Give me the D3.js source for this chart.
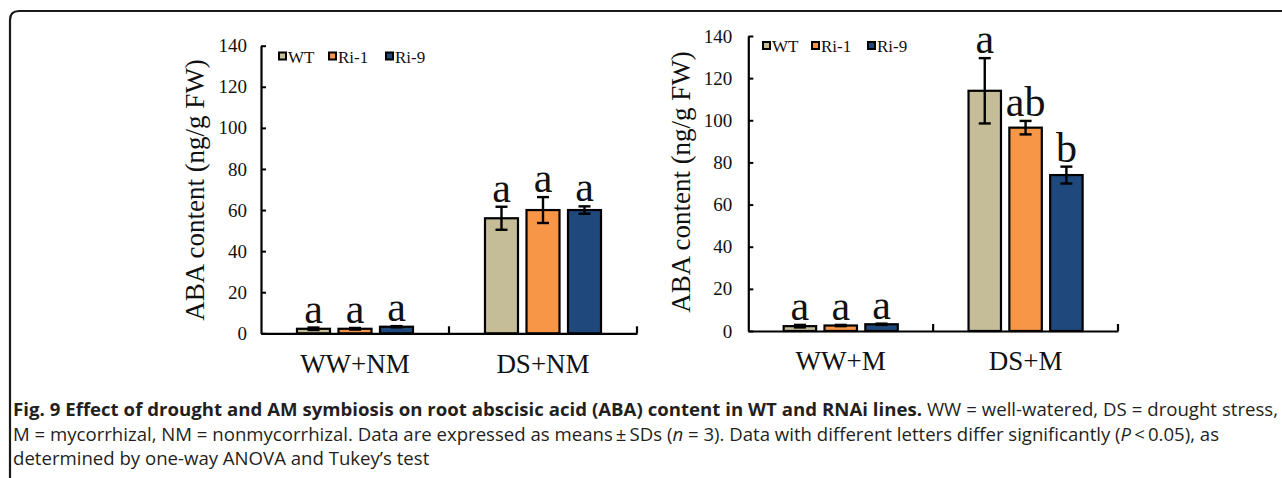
<!DOCTYPE html>
<html><head><meta charset="utf-8">
<script src="https://cdn.jsdelivr.net/npm/d3@7"></script>
<style>
html,body{margin:0;padding:0;background:#fff;}
svg{display:block;}
</style></head>
<body>
<svg id="fig" width="1282" height="478"></svg>
<script>
// ---- data ----
const series = ["WT", "Ri-1", "Ri-9"];
const seriesColors = ["#C4BD97", "#F79646", "#1F497D"];
const groupsNM = ["WW+NM", "DS+NM"];
const groupsM = ["WW+M", "DS+M"];
// values [group][series]
const meanNM = [[2.2, 2.2, 3.2], [56, 60, 60]];
const sdNM = [[0.6, 0.4, 0.3], [5.6, 6.3, 1.8]];
const letterNM = [["a", "a", "a"], ["a", "a", "a"]];
const meanM = [[2.3, 2.6, 3.2], [114, 96.5, 74]];
const sdM = [[0.6, 0.3, 0.3], [15.5, 3.2, 4]];
const letterM = [["a", "a", "a"], ["a", "ab", "b"]];
const yTicks = [0, 20, 40, 60, 80, 100, 120, 140];
const yTitle = "ABA content (ng/g FW)";

const svg = d3.select("#fig");
const serif = "'Liberation Serif','Times New Roman',serif";

// frame
svg.append("path")
  .attr("d", "M10,480 L10,20 Q10,11 19,11 L1290,11")
  .attr("fill", "none").attr("stroke", "#1a1a1a").attr("stroke-width", 2.2);

function panel(cfg) {
  const g = svg.append("g");
  const y = d3.scaleLinear().domain([0, 140]).range([cfg.yb, cfg.yt]);
  const x = d3.scaleBand().domain(cfg.groups).range([cfg.xl, cfg.xr]).padding(0);
  const xs = d3.scaleBand().domain(series).range([0, x.bandwidth()])
    .paddingInner(0.205).paddingOuter(0.867);

  // y axis
  const yAxis = d3.axisLeft(y).tickValues(yTicks).tickSize(-5).tickPadding(cfg.tickPad).tickSizeOuter(0);
  const ga = g.append("g").attr("transform", `translate(${cfg.xl},0)`).call(yAxis);
  ga.select(".domain").attr("stroke", "#000").attr("stroke-width", 2.2);
  ga.selectAll(".tick line").attr("stroke", "#000").attr("stroke-width", 2);
  ga.selectAll(".tick text").attr("font-family", serif).attr("font-size", 19).attr("fill", "#111");

  // x axis
  const xAxis = d3.axisBottom(x).tickSize(0).tickFormat("");
  const gx = g.append("g").attr("transform", `translate(0,${cfg.yb})`).call(xAxis);
  gx.select(".domain").attr("stroke", "#000").attr("stroke-width", 2.2);
  // category separator ticks (pointing up)
  const bounds = [x(cfg.groups[1]), cfg.xr];
  g.selectAll(".sep").data(bounds).join("line")
    .attr("x1", d => d).attr("x2", d => d)
    .attr("y1", cfg.yb).attr("y2", cfg.yb - 7)
    .attr("stroke", "#000").attr("stroke-width", 2.2);
  // category labels
  g.selectAll(".cat").data(cfg.groups).join("text")
    .attr("x", d => x(d) + x.bandwidth() / 2)
    .attr("y", cfg.catY)
    .attr("text-anchor", "middle")
    .attr("font-family", serif).attr("font-size", 27).attr("fill", "#111")
    .text(d => d);

  // bars
  const rows = [];
  cfg.groups.forEach((grp, gi) => series.forEach((s, si) => rows.push({
    grp, s, si, v: cfg.mean[gi][si], sd: cfg.sd[gi][si], lt: cfg.letters[gi][si]
  })));
  const bx = d => x(d.grp) + xs(d.s);
  g.selectAll(".bar").data(rows).join("rect")
    .attr("x", bx).attr("width", xs.bandwidth())
    .attr("y", d => y(d.v)).attr("height", d => y(0) - y(d.v))
    .attr("fill", d => seriesColors[d.si])
    .attr("stroke", "#000").attr("stroke-width", 2.2);
  // error bars
  const cx = d => bx(d) + xs.bandwidth() / 2;
  const eg = g.selectAll(".err").data(rows).join("g");
  eg.append("line").attr("x1", cx).attr("x2", cx)
    .attr("y1", d => y(d.v + d.sd)).attr("y2", d => y(d.v - d.sd))
    .attr("stroke", "#000").attr("stroke-width", 2.4);
  eg.append("line").attr("x1", d => cx(d) - 6).attr("x2", d => cx(d) + 6)
    .attr("y1", d => y(d.v + d.sd)).attr("y2", d => y(d.v + d.sd))
    .attr("stroke", "#000").attr("stroke-width", 2.4);
  eg.append("line").attr("x1", d => cx(d) - 6).attr("x2", d => cx(d) + 6)
    .attr("y1", d => y(d.v - d.sd)).attr("y2", d => y(d.v - d.sd))
    .attr("stroke", "#000").attr("stroke-width", 2.4);
  // significance letters
  g.selectAll(".lt").data(rows).join("text")
    .attr("x", cx).attr("y", d => y(d.v + d.sd) - 5)
    .attr("text-anchor", "middle")
    .attr("font-family", serif).attr("font-size", 42).attr("fill", "#111")
    .text(d => d.lt);

  // y title
  g.append("text")
    .attr("transform", `translate(${cfg.titleX},${cfg.titleY}) rotate(-90)`)
    .attr("text-anchor", "middle")
    .attr("font-family", serif).attr("font-size", 27).attr("fill", "#111")
    .text(yTitle);

  // legend
  const lg = g.append("g");
  series.forEach((s, i) => {
    lg.append("rect").attr("x", cfg.legX[i]).attr("y", cfg.legY - 4)
      .attr("width", 7).attr("height", 7)
      .attr("fill", seriesColors[i]).attr("stroke", "#000").attr("stroke-width", 2);
    lg.append("text").attr("x", cfg.legX[i] + 9).attr("y", cfg.legY + 6)
      .attr("font-family", serif).attr("font-size", 17).attr("fill", "#111")
      .text(s);
  });
}

panel({
  groups: groupsNM, mean: meanNM, sd: sdNM, letters: letterNM,
  xl: 261, xr: 637, yb: 333.3, yt: 45.7, tickPad: 14, catY: 373,
  titleX: 204, titleY: 190, legX: [279, 329, 386], legY: 56.5
});
panel({
  groups: groupsM, mean: meanM, sd: sdM, letters: letterM,
  xl: 748.3, xr: 1118, yb: 331, yt: 36, tickPad: 16, catY: 370,
  titleX: 690, titleY: 182, legX: [763, 812, 868], legY: 46
});

// caption
const capX = 13, capRight = 1278;
const cap = svg.append("g").attr("font-family", "'Open Sans',sans-serif")
  .attr("font-size", 18.6).attr("fill", "#231f20");
const l1 = cap.append("text").attr("x", capX).attr("y", 416);
l1.append("tspan").attr("font-weight", "bold")
  .text("Fig. 9 Effect of drought and AM symbiosis on root abscisic acid (ABA) content in WT and RNAi lines.");
l1.append("tspan").text(" WW = well-watered, DS = drought stress,");
const l2 = cap.append("text").attr("x", capX).attr("y", 441);
l2.append("tspan").text("M = mycorrhizal, NM = nonmycorrhizal. Data are expressed as means\u2009\u00b1\u2009SDs (");
l2.append("tspan").attr("font-style", "italic").text("n");
l2.append("tspan").text(" = 3). Data with different letters differ significantly (");
l2.append("tspan").attr("font-style", "italic").text("P");
l2.append("tspan").text("\u2009<\u20090.05), as");
cap.append("text").attr("x", capX).attr("y", 465)
  .text("determined by one-way ANOVA and Tukey\u2019s test");
// first line fills the width (justified)
{
  const node = l1.node();
  const w = node.getComputedTextLength();
  const spaces = (node.textContent.match(/ /g) || []).length;
  l1.attr("word-spacing", (capRight - capX - w) / spaces);
}
</script>
</body></html>
